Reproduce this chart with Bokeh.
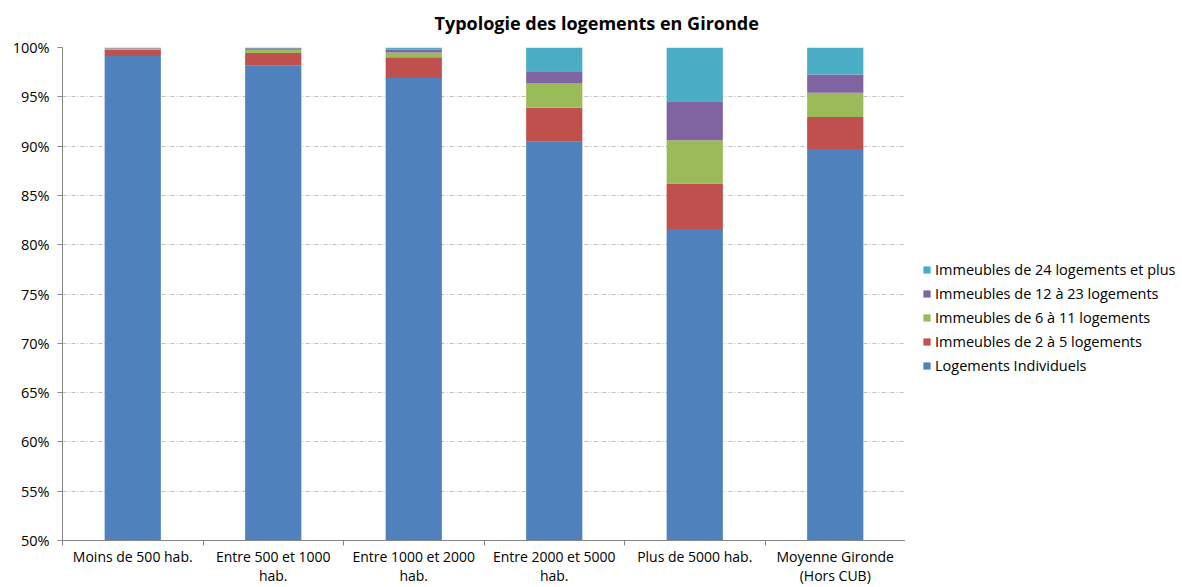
from bokeh.plotting import figure
from bokeh.layouts import row
from bokeh.models import (ColumnDataSource, FixedTicker, PrintfTickFormatter, Legend,
                          LegendItem, Range1d, Title)
from bokeh.embed import file_html
from bokeh.resources import INLINE

categories = ["Moins de 500 hab.", "Entre 500 et 1000\nhab.", "Entre 1000 et 2000\nhab.",
              "Entre 2000 et 5000\nhab.", "Plus de 5000 hab.", "Moyenne Gironde\n(Hors CUB)"]
individuels = [99.15, 98.15, 96.9, 90.45, 81.6, 89.7]
imm_2_5 = [0.65, 1.28, 2.12, 3.43, 4.6, 3.25]
imm_6_11 = [0.1, 0.34, 0.48, 2.46, 4.4, 2.45]
imm_12_23 = [0.05, 0.16, 0.27, 1.24, 3.95, 1.85]
imm_24_plus = [0.05, 0.07, 0.23, 2.42, 5.45, 2.75]

series_names = ["Logements Individuels", "Immeubles de 2 à 5 logements",
                "Immeubles de 6 à 11 logements", "Immeubles de 12 à 23 logements",
                "Immeubles de 24 logements et plus"]
colors = ["#4F81BD", "#C0504D", "#9BBB59", "#8064A2", "#4BACC6"]
keys = ["ind", "i2", "i6", "i12", "i24"]

xs = list(range(len(categories)))
source = ColumnDataSource(dict(x=xs, ind=individuels, i2=imm_2_5, i6=imm_6_11,
                               i12=imm_12_23, i24=imm_24_plus))

FONT = "Open Sans"
H = 587
p = figure(width=905, height=H, output_backend="svg", toolbar_location=None,
           x_range=Range1d(-0.5, 5.5), y_range=Range1d(50, 100),
           min_border_left=62, min_border_right=0, min_border_top=47, min_border_bottom=44)
p.outline_line_color = None
p.background_fill_color = "white"

t = Title(text="Typologie des logements en Gironde", align="left", offset=372, standoff=21,
          vertical_align="top",
          text_font=FONT, text_font_size="18px", text_font_style="bold", text_color="#000000")
p.add_layout(t, "above")

renderers = p.vbar_stack(keys, x="x", width=0.4, color=colors, line_color=None, source=source)

# axes
p.yaxis.ticker = FixedTicker(ticks=list(range(50, 101, 5)))
p.yaxis.formatter = PrintfTickFormatter(format="%d%%")
p.yaxis.axis_line_color = "#868686"
p.yaxis.major_tick_line_color = "#868686"
p.yaxis.major_tick_out = 5
p.yaxis.major_tick_in = 0
p.yaxis.minor_tick_line_color = None
p.yaxis.major_label_text_font = FONT
p.yaxis.major_label_text_font_size = "14.5px"
p.yaxis.major_label_text_color = "#000000"
p.yaxis.major_label_standoff = 8

p.xaxis.ticker = FixedTicker(ticks=xs, minor_ticks=[i - 0.5 for i in range(len(categories) + 1)])
p.xaxis.major_label_overrides = {i: c for i, c in enumerate(categories)}
p.xaxis.axis_line_color = "#868686"
p.xaxis.major_tick_line_color = None
p.xaxis.major_tick_out = 0
p.xaxis.major_tick_in = 0
p.xaxis.minor_tick_line_color = "#868686"
p.xaxis.minor_tick_out = 5
p.xaxis.minor_tick_in = 0
p.xaxis.major_label_text_font = FONT
p.xaxis.major_label_text_font_size = "14px"
p.xaxis.major_label_text_color = "#000000"
p.xaxis.major_label_text_line_height = 1.0
p.xaxis.major_label_standoff = 1

p.xgrid.grid_line_color = None
p.ygrid.grid_line_color = "#BEBEBE"
p.ygrid.grid_line_dash = "4 2 1 2"
p.ygrid.ticker = FixedTicker(ticks=list(range(55, 101, 5)))

# legend panel (separate figure to the right)
p2 = figure(width=276, height=H, output_backend="svg", toolbar_location=None,
            x_range=Range1d(0, 1), y_range=Range1d(0, 1),
            x_axis_location=None, y_axis_location=None,
            min_border_left=0, min_border_right=0, min_border_top=0, min_border_bottom=0)
p2.grid.visible = False
p2.outline_line_color = None
dummy = [p2.vbar(x=[10], top=[10], width=0.1, color=c, line_color=None) for c in colors]
items = [LegendItem(label=series_names[i], renderers=[dummy[i]]) for i in range(4, -1, -1)]
legend = Legend(items=items, location=(17, 165), orientation="vertical",
                glyph_width=9, glyph_height=9, label_height=20, spacing=4,
                padding=0, margin=0, border_line_color=None, background_fill_alpha=0,
                label_text_font=FONT, label_text_font_size="14.5px", label_text_color="#000000",
                label_standoff=4)
p2.add_layout(legend, "center")

layout = row(p, p2)
open("out.html", "w").write(file_html(layout, INLINE))
